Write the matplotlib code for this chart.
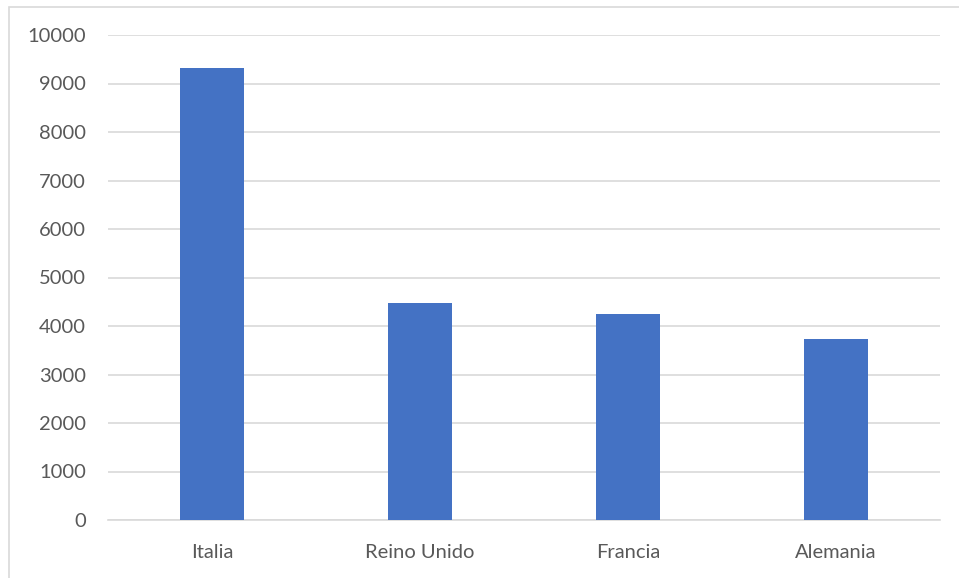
import matplotlib
matplotlib.use("Agg")
import matplotlib.pyplot as plt
from matplotlib.patches import Rectangle

categories = ["Italia", "Reino Unido", "Francia", "Alemania"]
values = [9320, 4470, 4245, 3730]
yticks = [0, 1000, 2000, 3000, 4000, 5000, 6000, 7000, 8000, 9000, 10000]

plt.rcParams['font.family'] = ['Lato', 'DejaVu Sans']

fig = plt.figure(figsize=(9.59, 5.78), dpi=100)
ax = fig.add_axes([108/959, 1 - 520/578, (940-108)/959, (520-35)/578])

ax.bar(range(len(categories)), values, width=0.31, color="#4472C4", zorder=3)
ax.set_xlim(-0.5, len(categories) - 0.5)
ax.set_ylim(0, 10000)
ax.set_yticks(yticks)
ax.set_yticklabels([str(t) for t in yticks])
ax.set_xticks(range(len(categories)))
ax.set_xticklabels(categories)

ax.grid(axis='y', color="#d9d9d9", linewidth=1.2, zorder=0)
for s in ['top', 'right', 'left']:
    ax.spines[s].set_visible(False)
ax.spines['bottom'].set_color("#d9d9d9")
ax.spines['bottom'].set_linewidth(1.2)
ax.tick_params(axis='both', length=0, colors="#595959", labelsize=14.5)
ax.tick_params(axis='y', pad=16)
ax.tick_params(axis='x', pad=17)

fig.patches.append(Rectangle((9/959, -0.1), 1.2, 1 - 7/578 + 0.1, transform=fig.transFigure,
                             fill=False, edgecolor="#d9d9d9", linewidth=1.2))

fig.savefig("out.png", dpi=100)
